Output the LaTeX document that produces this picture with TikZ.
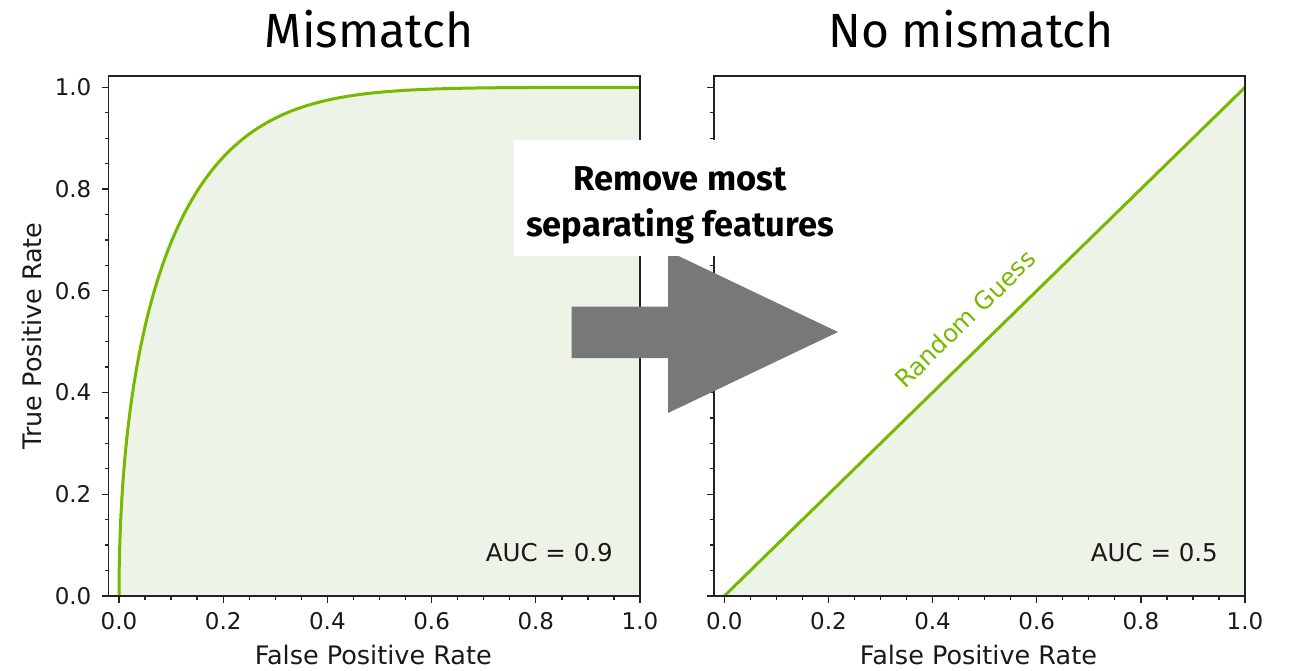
\documentclass[tikz,border=0pt]{standalone}
\usepackage{fontspec}
\setmainfont{DejaVu Sans}
\newfontfamily\fira{Fira Sans}
\usetikzlibrary{calc}

\definecolor{roc}{HTML}{76B900}
\definecolor{rocfill}{HTML}{EDF3E7}
\definecolor{arrowgray}{HTML}{787878}
\definecolor{axisline}{HTML}{222222}

\begin{document}
\begin{tikzpicture}[x=1pt,y=-1pt,
  ticklab/.style={font=\fontsize{23}{26}\selectfont, inner sep=0pt, text=black!90},
  axlab/.style={font=\fontsize{25.5}{28}\selectfont, inner sep=0pt, text=black!90},
  auclab/.style={font=\fontsize{24.5}{28}\selectfont, inner sep=0pt, anchor=east, text=black!90},
  paneltitle/.style={font=\fira\fontsize{48}{52}\selectfont, inner sep=0pt, anchor=base},
  axframe/.style={draw=axisline, line width=1.4pt},
  tickmark/.style={draw=axisline, line width=1.3pt},
  curve/.style={draw=roc, line width=3pt, line join=round}]
\useasboundingbox (0,0) rectangle (1291,670);

% ---------- left panel: ROC curve with AUC 0.9 ----------
% curve: x = s^2, y = 1 - exp(-(2.65 s + 3 s^2 + 5 s^4)), s in [0,1]
\begin{scope}[shift={(119,596)}, x=521pt, y=508.7pt]
  \fill[rocfill] plot[domain=0:1, samples=220, variable=\s]
      ({\s*\s}, {1-exp(-(2.65*\s+3*\s*\s+5*\s*\s*\s*\s))}) -- (1,0) -- cycle;
  \draw[curve] plot[domain=0:1, samples=220, variable=\s]
      ({\s*\s}, {1-exp(-(2.65*\s+3*\s*\s+5*\s*\s*\s*\s))});
  \draw[axframe] (-0.02,0) rectangle (1,1.022);
  \foreach \k in {0,...,20} {
    \draw[tickmark] (\k/20,0) -- ++(0,-4pt);
    \draw[tickmark] (-0.02,\k/20) -- ++(-4pt,0);
  }
  \foreach \k/\lab in {0/0.0,1/0.2,2/0.4,3/0.6,4/0.8,5/1.0} {
    \draw[tickmark] (\k/5,0) -- ++(0,-7pt);
    \draw[tickmark] (-0.02,\k/5) -- ++(-7pt,0);
    \node[ticklab] (lxt\k) at ($(\k/5,0)+(0,-25.5pt)$) {\lab};
    \node[ticklab, anchor=east] (lyt\k) at ($(-0.02,\k/5)+(-17pt,0)$) {\lab};
  }
  \node[axlab] (lxlabel) at ($(0.488,0)+(0,-58.5pt)$) {False Positive Rate};
  \node[axlab, rotate=90] (lylabel) at ($(-0.02,0.511)+(-77pt,0)$) {True Positive Rate};
  \node[auclab] (lauc) at ($(1,0)+(-27pt,43pt)$) {AUC = 0.9};
\end{scope}

% ---------- right panel: random guess diagonal ----------
\begin{scope}[shift={(724.3,596)}, x=520.7pt, y=508.7pt]
  \fill[rocfill] (0,0) -- (1,1) -- (1,0) -- cycle;
  \coordinate (rstart) at (0,0);
  \coordinate (rend) at (1,1);
  \draw[curve] (rstart) -- (rend);
  \draw[axframe] (-0.02,0) rectangle (1,1.022);
  \foreach \k in {0,...,20} {
    \draw[tickmark] (\k/20,0) -- ++(0,-4pt);
    \draw[tickmark] (-0.02,\k/20) -- ++(-4pt,0);
  }
  \foreach \k/\lab in {0/0.0,1/0.2,2/0.4,3/0.6,4/0.8,5/1.0} {
    \draw[tickmark] (\k/5,0) -- ++(0,-7pt);
    \draw[tickmark] (-0.02,\k/5) -- ++(-7pt,0);
    \node[ticklab] (rxt\k) at ($(\k/5,0)+(0,-25.5pt)$) {\lab};
  }
  \node[axlab] (rxlabel) at ($(0.488,0)+(0,-58.5pt)$) {False Positive Rate};
  \node[auclab] (rauc) at ($(1,0)+(-27pt,43pt)$) {AUC = 0.5};
  \node[font=\fontsize{24.5}{27}\selectfont, text=roc, rotate=44.3, inner sep=0pt]
    (guess) at (0.462,0.545) {Random Guess};
\end{scope}

% ---------- panel titles ----------
\node[paneltitle] (ltitle) at (369,47) {Mismatch};
\node[paneltitle] (rtitle) at (971,47) {No mismatch};

% ---------- transition arrow and caption ----------
\fill[arrowgray] (571.7,306.7) -- (668,306.7) -- (668,251) -- (838,332)
  -- (668,413) -- (668,358) -- (571.7,358) -- cycle;
\node[fill=white, minimum width=332pt, minimum height=116pt, inner sep=0pt]
  (captionbox) at (680,198) {};
\node[align=center, font=\fira\bfseries\fontsize{34.5}{46}\selectfont, inner sep=0pt]
  (caption) at (680,205) {Remove most\\separating features};
\end{tikzpicture}
\end{document}
